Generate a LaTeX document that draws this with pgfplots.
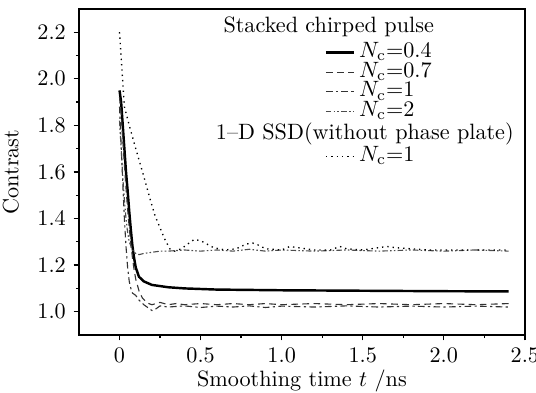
\documentclass[border=0pt]{standalone}
\usepackage{pgfplots}
\pgfplotsset{compat=1.18}
\begin{document}
\begin{tikzpicture}
\begin{axis}[
  name=ax,
  scale only axis,
  width=201pt, height=147pt,
  xmin=-0.25, xmax=2.5, ymin=0.9, ymax=2.3,
  xtick={0,0.5,1,1.5,2,2.5},
  xticklabels={0,0.5,1.0,1.5,2.0,2.5},
  ytick={1.0,1.2,1.4,1.6,1.8,2.0,2.2},
  yticklabel style={/pgf/number format/fixed,/pgf/number format/fixed zerofill,/pgf/number format/precision=1},
  minor x tick num=1, minor y tick num=1,
  tick align=outside, xtick pos=left, ytick pos=left,
  major tick length=2.4pt, minor tick length=1.4pt,
  axis line style={line width=0.7pt}, tick style={line width=0.6pt,black},
  xlabel={Smoothing time $t$ /ns}, ylabel={Contrast},
  xlabel style={yshift=4pt}, ylabel style={yshift=1.5pt},
  legend style={draw=none, fill=none, at={(rel axis cs:0.55,0.896)}, anchor=north west,
    inner sep=0pt, row sep=0.3pt, nodes={inner sep=0pt, text height=6.5pt, text depth=2pt}},
  legend cell align=left,
  legend image post style={xscale=0.75},
]
\addplot[black, line width=1.1pt] coordinates {
(0,1.95)(0.01,1.90)(0.02,1.80)(0.03,1.70)(0.04,1.60)(0.05,1.52)(0.06,1.43)(0.07,1.35)(0.08,1.28)(0.09,1.23)(0.1,1.19)(0.12,1.15)(0.15,1.13)(0.2,1.115)(0.3,1.105)(0.4,1.10)(0.6,1.095)(1.0,1.092)(1.5,1.09)(2.0,1.088)(2.4,1.087)};
\addlegendentry{\,$N_{\mathrm{c}}$=0.4}
\addplot[black!80, line width=0.5pt, dash pattern=on 3pt off 2pt] coordinates {
(0,1.92)(0.01,1.85)(0.02,1.74)(0.03,1.63)(0.04,1.53)(0.05,1.44)(0.06,1.36)(0.07,1.29)(0.08,1.23)(0.09,1.18)(0.10,1.14)(0.12,1.09)(0.14,1.06)(0.16,1.045)(0.18,1.035)(0.2,1.03)(0.25,1.04)(0.3,1.03)(0.35,1.035)(0.4,1.03)(0.5,1.035)(0.6,1.03)(0.7,1.035)(0.8,1.03)(0.9,1.035)(1.0,1.03)(1.2,1.035)(1.4,1.03)(1.6,1.035)(1.8,1.03)(2.0,1.035)(2.2,1.03)(2.4,1.035)};
\addlegendentry{\,$N_{\mathrm{c}}$=0.7}
\addplot[black!80, line width=0.5pt, dash pattern=on 3pt off 1.5pt on 1pt off 1.5pt] coordinates {
(0,1.88)(0.01,1.72)(0.02,1.55)(0.03,1.40)(0.04,1.28)(0.05,1.19)(0.06,1.13)(0.07,1.10)(0.08,1.08)(0.1,1.07)(0.12,1.05)(0.15,1.03)(0.18,1.015)(0.2,1.005)(0.22,1.01)(0.25,1.025)(0.3,1.02)(0.4,1.025)(0.5,1.018)(0.6,1.024)(0.7,1.02)(0.8,1.025)(0.9,1.018)(1.0,1.024)(1.2,1.02)(1.4,1.025)(1.6,1.02)(1.8,1.024)(2.0,1.02)(2.2,1.024)(2.4,1.02)};
\addlegendentry{\,$N_{\mathrm{c}}$=1}
\addplot[black!70, line width=0.5pt, dash pattern=on 2.5pt off 1pt on 0.7pt off 1pt on 0.7pt off 1pt] coordinates {
(0,1.82)(0.01,1.70)(0.02,1.58)(0.03,1.48)(0.04,1.40)(0.05,1.34)(0.06,1.30)(0.08,1.265)(0.1,1.25)(0.12,1.245)(0.15,1.25)(0.2,1.255)(0.25,1.26)(0.3,1.26)(0.4,1.265)(0.5,1.26)(0.6,1.265)(0.7,1.26)(0.8,1.268)(0.9,1.26)(1.0,1.265)(1.2,1.26)(1.4,1.265)(1.6,1.26)(1.8,1.265)(2.0,1.26)(2.2,1.265)(2.4,1.26)};
\addlegendentry{\,$N_{\mathrm{c}}$=2}
\addlegendimage{empty legend}
\addlegendentry[text height=9.2pt]{}
\addplot[black, line width=0.6pt, dash pattern=on 0.6pt off 1.8pt] coordinates {
(0,2.2)(0.03,1.88)(0.06,1.80)(0.1,1.70)(0.15,1.58)(0.19,1.48)(0.22,1.41)(0.25,1.36)(0.28,1.31)(0.31,1.27)(0.34,1.26)(0.38,1.27)(0.42,1.29)(0.46,1.31)(0.5,1.305)(0.54,1.29)(0.58,1.275)(0.65,1.265)(0.72,1.27)(0.78,1.29)(0.82,1.295)(0.86,1.285)(0.9,1.27)(1.0,1.265)(1.05,1.28)(1.1,1.275)(1.2,1.265)(1.3,1.265)(1.36,1.28)(1.4,1.27)(1.5,1.265)(1.6,1.275)(1.65,1.28)(1.7,1.275)(1.8,1.27)(1.9,1.265)(2.0,1.265)(2.2,1.265)(2.4,1.265)};
\addlegendentry{\,$N_{\mathrm{c}}$=1}
\node at (rel axis cs:0.56,0.945) {Stacked chirped pulse};
\node at (rel axis cs:0.641,0.617) {1--D SSD(without phase plate)};
\end{axis}
\pgfresetboundingbox
\path ([xshift=-35.6pt,yshift=-25.7pt]ax.south west) rectangle ([xshift=5pt,yshift=4pt]ax.north east);
\end{tikzpicture}
\end{document}
